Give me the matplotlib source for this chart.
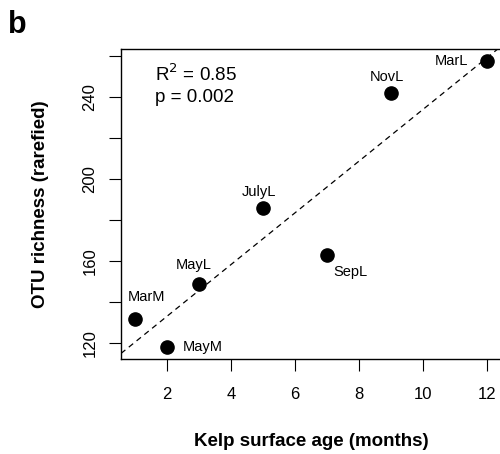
import numpy as np
import matplotlib
matplotlib.use("Agg")
import matplotlib.pyplot as plt

plt.rcParams['font.family'] = ['Liberation Sans', 'DejaVu Sans']

# kelp surface age (months) vs OTU richness
samples = ['MarM', 'MayM', 'MayL', 'JulyL', 'SepL', 'NovL', 'MarL']
age = [1, 2, 3, 5, 7, 9, 12]
richness = [132, 118, 149, 186, 163, 242, 258]

xticks = [2, 4, 6, 8, 10, 12]
yticks = [120, 140, 160, 180, 200, 220, 240, 260]
ytick_labels = ['120', '', '160', '', '200', '', '240', '']

# label offsets in points (placement only)
offsets = {
    'MarM': (8.5, 15.5, 'center'),
    'MayM': (11.5, 0, 'left'),
    'MayL': (-3.5, 13.5, 'center'),
    'JulyL': (-3, 11.5, 'center'),
    'SepL': (16.5, -12, 'center'),
    'NovL': (-3, 12, 'center'),
    'MarL': (-13.5, 0, 'right'),
}

fig = plt.figure(figsize=(5, 4.54), dpi=100)
ax = fig.add_axes([0.242, 0.2093, 0.76, 0.6827])

x = np.array(age, dtype=float)
y = np.array(richness, dtype=float)
xr = x.max() - x.min()
yr = y.max() - y.min()
xlim = (x.min() - 0.04 * xr, x.max() + 0.04 * xr)
ylim = (y.min() - 0.04 * yr, y.max() + 0.04 * yr)

# linear fit, drawn across the whole plot like abline()
slope, intercept = np.polyfit(x, y, 1)
xx = np.array(xlim)
ax.plot(xx, intercept + slope * xx, color='black', lw=0.9,
        linestyle=(0, (4.5, 3.5)))

ax.plot(x, y, 'o', color='black', markersize=9.5)

for s, xi, yi in zip(samples, age, richness):
    dx, dy, ha = offsets[s]
    ax.annotate(s, (xi, yi), xytext=(dx, dy), textcoords='offset points',
                ha=ha, va='center', fontsize=10.5)

ax.text(0.089, 0.919, r'R$^2$ = 0.85', transform=ax.transAxes,
        fontsize=13.5, va='center', ha='left')
ax.text(0.089, 0.845, 'p = 0.002', transform=ax.transAxes,
        fontsize=13.5, va='center', ha='left')

ax.set_xlim(xlim)
ax.set_ylim(ylim)
ax.set_xticks(xticks)
ax.set_yticks(yticks)
ax.set_yticklabels(ytick_labels, rotation=90, va='center')

ax.tick_params(direction='out', length=8.5, width=0.8, labelsize=12)
ax.tick_params(axis='x', pad=12)
ax.tick_params(axis='y', pad=8.5)
for sp in ax.spines.values():
    sp.set_linewidth(1.0)
# the right edge of the box falls just outside the picture
ax.spines['right'].set_visible(False)

ax.set_xlabel('Kelp surface age (months)', fontsize=13.5,
              fontweight='bold', labelpad=22)
ax.set_ylabel('OTU richness (rarefied)', fontsize=13.5,
              fontweight='bold', labelpad=24)

fig.text(0.016, 0.978, 'b', fontsize=22, fontweight='bold',
         ha='left', va='top')

fig.savefig('out.png', dpi=100)
